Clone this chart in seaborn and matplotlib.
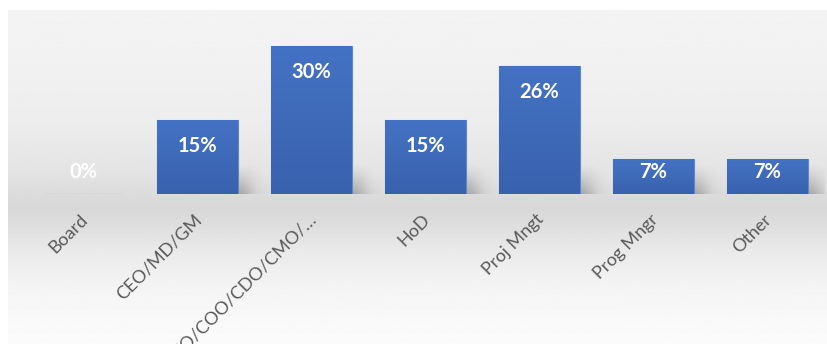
import numpy as np
import pandas as pd
import matplotlib
matplotlib.use("Agg")
import matplotlib.pyplot as plt
import matplotlib.transforms as mtransforms
import seaborn as sns

# Share of respondents by role
roles = ["Board", "CEO/MD/GM", "CFO/COO/CDO/CMO/\u2026", "HoD",
         "Proj Mngt", "Prog Mngr", "Other"]
shares = [0, 15, 30, 15, 26, 7, 7]
share_labels = ["0%", "15%", "30%", "15%", "26%", "7%", "7%"]

df = pd.DataFrame({"role": roles, "share": shares})

sns.set_theme(style="white")
plt.rcParams["font.family"] = ["Lato", "DejaVu Sans"]

W, H, DPI = 827, 344, 100
fig = plt.figure(figsize=(W / DPI, H / DPI), dpi=DPI)
fig.patch.set_facecolor("white")

# Chart area backdrop: soft grey vertical gradient with a darker "floor" band
bg = fig.add_axes([8 / W, 0, (W - 8) / W, (H - 10) / H], zorder=0)
ys = np.linspace(10, 344, 400)
stops_y = [10, 60, 120, 170, 195, 208, 222, 250, 285, 320, 344]
stops_v = [0.955, 0.947, 0.93, 0.895, 0.86, 0.845, 0.865, 0.915, 0.955, 0.975, 0.985]
prof = np.interp(ys, stops_y, stops_v)
bg.imshow(np.repeat(prof[:, None], 2, axis=1), cmap="gray", vmin=0, vmax=1,
          aspect="auto", extent=[0, 1, 0, 1], interpolation="bilinear")
bg.set_axis_off()

# Main axes: baseline at y=194 px, 4.93 px per percentage point
x0, x1 = 26.5, 824.5
base_px = 194
top_px = 194 - 32 * 4.933
ax = fig.add_axes([x0 / W, (H - base_px) / H, (x1 - x0) / W, (base_px - top_px) / H],
                  zorder=1)
ax.patch.set_alpha(0)

sns.barplot(data=df, x="role", y="share", color="#4472C4", width=0.71,
            saturation=1, edgecolor="#5E87CF", linewidth=0.8, ax=ax, zorder=3)
ax.set_xlim(-0.5, len(roles) - 0.5)
ax.set_ylim(0, 32)

# Soft cast shadows to the lower right of each bar
gx = np.linspace(-0.5, len(roles) - 0.5, 1400)
gy = np.linspace(0, 32, 640)
GX, GY = np.meshgrid(gx, gy)
shadow = np.zeros_like(GX)
half = 0.355
for i, v in enumerate(shares):
    if v <= 0:
        continue
    h = min(v, 6.5)
    dx = GX - (i + half)
    fx = np.where(dx < 0, 1.0, np.exp(-(dx / 0.13) ** 2))
    fx = np.where(GX < i - half + 0.1, 0, fx)
    fy = np.clip(1 - GY / h, 0, 1) ** 1.3
    shadow = np.maximum(shadow, fx * fy)
rgba = np.zeros(GX.shape + (4,))
rgba[..., 3] = 0.24 * shadow
ax.imshow(rgba, extent=[gx[0], gx[-1], 0, 32], origin="lower", aspect="auto",
          zorder=2, interpolation="bilinear")

# Vertical gradient fill inside each bar
grad = np.linspace(0, 1, 64)[:, None]
cm = matplotlib.colors.LinearSegmentedColormap.from_list(
    "barfill", ["#3962AE", "#4472C4"])
for patch in ax.patches:
    bx, by = patch.get_x(), patch.get_y()
    bw, bh = patch.get_width(), patch.get_height()
    if bh <= 0:
        continue
    im = ax.imshow(grad, cmap=cm, extent=[bx, bx + bw, by, by + bh], origin="lower",
                   aspect="auto", zorder=3.5, interpolation="bilinear")
    im.set_clip_path(patch)
ax.set_xlim(-0.5, len(roles) - 0.5)
ax.set_ylim(0, 32)

# Value labels near the top of each bar
for i, (v, lab) in enumerate(zip(shares, share_labels)):
    ax.text(i, max(v - 5.3, 4.5), lab, ha="center", va="center", color="white",
            fontsize=14.5, fontweight="bold", zorder=5)

# Category labels, rotated 45 degrees below the baseline
ax.set_xticks([])
ax.set_yticks([])
ax.set_xlabel("")
ax.set_ylabel("")
for s in ax.spines.values():
    s.set_visible(False)
off = mtransforms.ScaledTranslation(-4 / DPI, -17 / DPI, fig.dpi_scale_trans)
tr = ax.get_xaxis_transform() + off
for i, r in enumerate(roles):
    ax.text(i, 0, r, transform=tr, rotation=45, rotation_mode="anchor",
            ha="right", va="top", color="#595959", fontsize=13, clip_on=False)

fig.savefig("out.png", dpi=DPI)
